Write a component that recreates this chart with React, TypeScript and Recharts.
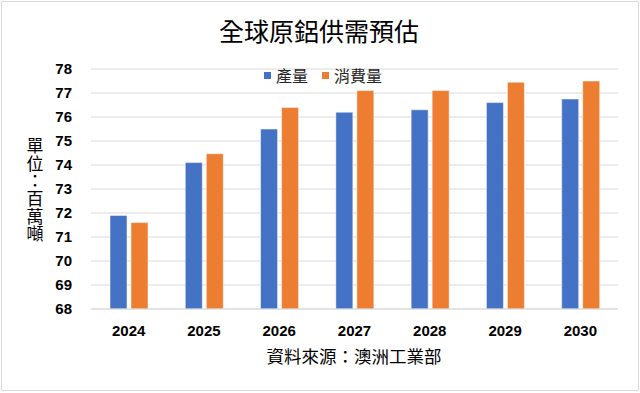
import React from 'react';
import { BarChart, Bar, XAxis, YAxis, CartesianGrid, Legend } from 'recharts';

const years = ['2024', '2025', '2026', '2027', '2028', '2029', '2030'];
const production = [71.9, 74.1, 75.5, 76.2, 76.3, 76.6, 76.75];
const consumption = [71.6, 74.47, 76.4, 77.1, 77.1, 77.45, 77.5];
const yTicks = [68, 69, 70, 71, 72, 73, 74, 75, 76, 77, 78];
const seriesNames = ['產量', '消費量'];
const seriesColors = ['#4472C4', '#ED7D31'];
const chartTitle = '全球原鋁供需預估';
const yTitle = '單位：百萬噸';
const xTitle = '資料來源：澳洲工業部';

const data = years.map((y, i) => ({ year: y, p: production[i], c: consumption[i] }));

const CJK = '"Noto Sans CJK TC", "Noto Sans CJK SC", sans-serif';

const LegendContent = () => (
  <div style={{ display: 'flex', justifyContent: 'center', alignItems: 'center', paddingLeft: 6, fontFamily: CJK, fontSize: 16, color: '#262626', lineHeight: '20px' }}>
    {seriesNames.map((n, i) => (
      <div key={n} style={{ display: 'flex', alignItems: 'center', marginRight: i === 0 ? 14 : 0 }}>
        <span style={{ display: 'inline-block', width: 7, height: 7, background: seriesColors[i], marginRight: 5 }} />
        <span>{n}</span>
      </div>
    ))}
  </div>
);

export default function App() {
  return (
    <div style={{ position: 'absolute', left: 0, top: 0, width: 640, height: 393, background: '#fff' }}>
      <div style={{ position: 'absolute', left: 1, top: 1, width: 636, height: 388, border: '1px solid #D9D9D9' }} />
      <BarChart
        width={640}
        height={393}
        data={data}
        margin={{ top: 69, right: 22, bottom: 54, left: 31 }}
        barSize={17}
        barGap={4}
        style={{ position: 'absolute', left: 0, top: 0 }}
      >
        <CartesianGrid vertical={false} stroke="#D9D9D9" strokeWidth={1} />
        <XAxis
          dataKey="year"
          height={30}
          axisLine={{ stroke: '#D9D9D9' }}
          tickLine={false}
          tickSize={0}
          tickMargin={16}
          tick={{ fill: '#000', fontSize: 15, fontWeight: 'bold', fontFamily: '"Liberation Sans", Arial, sans-serif' }}
        />
        <YAxis
          width={60}
          domain={[68, 78]}
          ticks={yTicks}
          interval={0}
          axisLine={false}
          tickLine={false}
          tickSize={0}
          tickMargin={19}
          tick={{ fill: '#000', fontSize: 15, fontWeight: 'bold', fontFamily: '"Liberation Sans", Arial, sans-serif' }}
        />
        <Legend
          verticalAlign="middle"
          align="center"
          layout="horizontal"
          content={LegendContent}
          wrapperStyle={{ position: 'absolute', top: 65, left: 0, width: 640, height: 20 }}
        />
        <Bar dataKey="p" name={seriesNames[0]} fill={seriesColors[0]} stroke="#ffffff" strokeOpacity={0.5} strokeWidth={1} isAnimationActive={false} />
        <Bar dataKey="c" name={seriesNames[1]} fill={seriesColors[1]} stroke="#ffffff" strokeOpacity={0.5} strokeWidth={1} isAnimationActive={false} />
        <text x={319} y={41} textAnchor="middle" fontSize={25} fontFamily={CJK} fill="#000">{chartTitle}</text>
        <text x={354} y={363} textAnchor="middle" fontSize={17.5} fontFamily={CJK} fill="#000">{xTitle}</text>
        <text
          x={35}
          y={190}
          textAnchor="middle"
          fontSize={17}
          fontFamily={CJK}
          fill="#000"
          style={{ writingMode: 'vertical-rl', letterSpacing: 0.6 }}
        >
          {yTitle}
        </text>
      </BarChart>
    </div>
  );
}
